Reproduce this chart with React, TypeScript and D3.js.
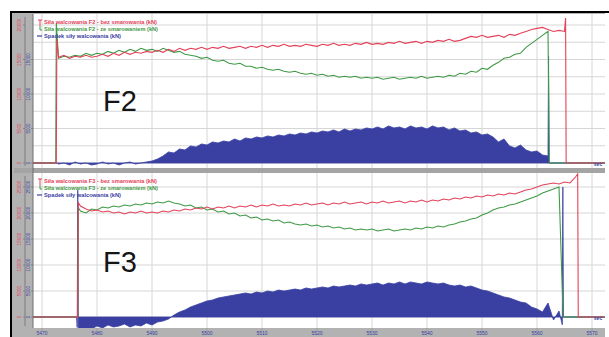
import * as d3 from "d3"

const W = 609
const H = 337

// time axis (sec)
const timeTicks = [5470, 5480, 5490, 5500, 5510, 5520, 5530, 5540, 5550, 5560, 5570]

// F2 stand, one sample per second from f2Start (kN)
const f2Start = 5473
const f2Bez = [
  15320, 15610, 15170, 15460, 15320, 15610, 15320, 15460, 15750, 15460, 15900, 15610, 16040, 15750, 16040, 15900,
  16180, 16040, 16330, 16040, 16470, 16180, 16620, 16330, 16620, 16470, 16760, 16470, 16760, 16620, 16910, 16620,
  16760, 16910, 16620, 16910, 16760, 17050, 16760, 17050, 16910, 17200, 16910, 17050, 16910, 17200, 17050, 16910,
  17200, 17050, 17340, 17050, 17200, 17050, 17340, 17200, 17480, 17200, 17340, 17200, 17480, 17340, 17630, 17340,
  17480, 17630, 17340, 17630, 17480, 17770, 17630, 17920, 17630, 17770, 18060, 18350, 18210, 18500, 18210, 18350,
  18500, 18210, 18640, 18500, 18790, 19070, 19360, 19510, 19650, 19360, 19070, 19220, 19070,
]
const f2Ze = [
  15170, 15460, 15320, 15610, 15460, 15900, 15610, 15900, 15750, 16180, 15900, 16330, 16040, 16470, 16180, 16620,
  16330, 16470, 16180, 16620, 16330, 16040, 16180, 15750, 15610, 15460, 15170, 15320, 14880, 14740, 14880, 14450,
  14310, 14450, 14020, 14020, 13730, 13870, 13580, 13440, 13580, 13290, 13150, 13290, 13010, 12860, 13010, 12720,
  12860, 12570, 12720, 12430, 12570, 12430, 12570, 12280, 12430, 12280, 12430, 12140, 12280, 12430, 12140, 12280,
  12430, 12280, 12570, 12280, 12430, 12570, 12430, 12720, 12570, 13010, 12860, 13290, 13150, 13730, 13580, 14160,
  14590, 15170, 15320, 15750, 15900, 16760, 17340, 17920, 18500, 19070,
]
const f2Spadek = [
  -150, 0, -290, 150, -150, 0, -290, -150, 150, -150, 0, -290, 0, 150, -150, 0, 150, 290,
  580, 1010, 1600, 1450, 2030, 1890, 2470, 2320, 2760, 2610, 3050, 2900, 3190, 3050, 3480, 3190,
  3630, 3480, 3770, 3630, 3920, 3770, 4060, 3920, 4210, 4060, 4350, 4210, 4500, 4350, 4640, 4500,
  4790, 4500, 4930, 4640, 4930, 4790, 5080, 4930, 5220, 4930, 5370, 5080, 5220, 4930, 5370, 5080,
  5220, 4930, 5370, 5080, 5220, 4790, 5080, 4640, 4790, 4350, 4500, 4060, 4210, 3770, 3050, 3480,
  2470, 2180, 2610, 1890, 1600, 1740, 1160, 1010,
]
const f2BezLead = [[5468, 0], [5472.6, 0], [5472.7, 18000]]
const f2BezTail = [[5565.2, 21000], [5565.3, 0], [5573, 0]]
const f2ZeLead = [[5468, 0], [5472.5, 0], [5472.6, 20300]]
const f2ZeTail = [[5562.25, 0], [5573, 0]]
const f2SpadekLead = [[5468, 0], [5472.8, 0]]
const f2SpadekTail = [[5562.1, 15500], [5562.2, 0], [5573, 0]]

// F3 stand
const f3Start = 5477
const f3Bez = [
  21350, 20770, 20380, 20580, 20190, 20380, 20000, 20190, 19810, 20190, 20000, 20380, 20000, 20190, 20000, 20380,
  20190, 20580, 20380, 20770, 20580, 20960, 20770, 21150, 20770, 21150, 20960, 21350, 20960, 21350, 21150, 21540,
  21150, 21540, 21350, 21730, 21350, 21540, 21350, 21730, 21540, 21920, 21540, 21730, 21920, 21540, 21920, 21730,
  22110, 21730, 21920, 22110, 21730, 22110, 21920, 22310, 21920, 22110, 22310, 21920, 22310, 22110, 22500, 22110,
  22500, 22310, 22690, 22500, 22880, 22690, 23080, 22880, 23270, 23080, 23460, 23270, 23650, 23460, 23850, 23650,
  24040, 24420, 24610, 25000, 25380, 25580, 25770, 25580, 25960, 25770, 26920,
]
const f3Ze = [
  20380, 20000, 20770, 20580, 21150, 20960, 21350, 21150, 21540, 21350, 21730, 21540, 21920, 21730, 22110, 21920,
  22310, 21920, 21730, 21350, 21540, 20960, 21150, 20580, 20770, 20190, 20380, 19810, 20000, 19420, 19610, 19040,
  19230, 18650, 18850, 18460, 18650, 18080, 18270, 17880, 17690, 17880, 17500, 17690, 17310, 17500, 17110, 17310,
  16920, 17110, 16730, 16920, 16730, 16920, 16540, 16730, 16920, 16540, 16730, 16920, 16730, 17110, 16920, 17310,
  17110, 17500, 17310, 17690, 17880, 18270, 18460, 18850, 19040, 19610, 20000, 20580, 20960, 21150, 21540, 21730,
  22110, 22500, 22880, 23270, 23850, 24230, 24610, 25000,
]
const f3Spadek = [
  -2500, -2120, -2310, -1730, -2120, -1540, -1920, -1730, -1350, -1920, -1540, -1730, -1150, -1540, -960, -770,
  -380, 380, 960, 1350, 1920, 2310, 2690, 3080, 3270, 3650, 3850, 4040, 4230, 4420, 4620, 4420,
  4810, 4620, 5000, 4810, 5190, 5000, 5190, 5380, 5190, 5580, 5380, 5580, 5770, 5580, 5960, 5770,
  5960, 6150, 5960, 6350, 6150, 6350, 6540, 6150, 6540, 6350, 6730, 6350, 6730, 6540, 6350, 6730,
  6540, 6350, 6540, 6150, 5960, 6150, 5770, 5960, 5580, 5190, 5000, 4620, 4230, 3850, 3650, 3270,
  2880, 2690, 1920, 1540, 960, 2690, -580, 1150,
]
const f3BezLead = [[5468, 0], [5476.5, 0], [5476.6, 22000]]
const f3BezTail = [[5567.4, 27500], [5567.5, 0], [5573, 0]]
const f3ZeLead = [[5468, 0], [5476.5, 0], [5476.6, 21000]]
const f3ZeTail = [[5564.75, 0], [5573, 0]]
const f3SpadekLead = [[5468, 0], [5476.3, 0], [5476.4, -2000], [5476.5, 24400], [5476.6, -2300]]
const f3SpadekTail = [[5564.6, -1500], [5564.7, 25000], [5564.8, 0], [5573, 0]]

const f2Labels = [
  "Siła walcowania F2 - bez smarowania (kN)",
  "Siła walcowania F2 - ze smarowaniem (kN)",
  "Spadek siły walcowania (kN)",
]
const f3Labels = [
  "Siła walcowania F3 - bez smarowania (kN)",
  "Siła walcowania F3 - ze smarowaniem (kN)",
  "Spadek siły walcowania (kN)",
]

const f2RedTicks = [0, 5000, 10000, 15000, 20000]
const f2BlueTicks = [0, 5000, 10000, 15000]
const f3RedTicks = [0, 5000, 10000, 15000, 20000, 25000]
const f3BlueTicks = [0, 5000, 10000, 15000, 20000, 25000]

const RED = "#e3425a"
const GREEN = "#3f9a45"
const BLUE = "#3a40a2"
const GRID = "#d6d6d6"
const STRIP = "#b2b2b2"
const FONT = "'Liberation Sans', Arial, sans-serif"

const PLOT_L = 33
const PLOT_R = 605

const x = d3.scaleLinear().domain([5470, 5570]).range([42, 592])

type Pt = [number, number]
const build = (lead: number[][], start: number, vals: number[], tail: number[][]): Pt[] => [
  ...(lead as Pt[]),
  ...vals.map((v, i) => [start + i, v] as Pt),
  ...(tail as Pt[]),
]

const panels = [
  {
    id: "f2",
    top: 14,
    bottom: 168,
    name: "F2",
    y: d3.scaleLinear().domain([0, 20000]).range([163, 25]),
    gridStep: 2500,
    red: build(f2BezLead, f2Start, f2Bez, f2BezTail),
    green: build(f2ZeLead, f2Start, f2Ze, f2ZeTail),
    blue: build(f2SpadekLead, f2Start, f2Spadek, f2SpadekTail),
    labels: f2Labels,
    redTicks: f2RedTicks,
    blueTicks: f2BlueTicks,
    nameY: 111,
  },
  {
    id: "f3",
    top: 173,
    bottom: 328,
    name: "F3",
    y: d3.scaleLinear().domain([0, 25000]).range([317, 187]),
    gridStep: 5000,
    red: build(f3BezLead, f3Start, f3Bez, f3BezTail),
    green: build(f3ZeLead, f3Start, f3Ze, f3ZeTail),
    blue: build(f3SpadekLead, f3Start, f3Spadek, f3SpadekTail),
    labels: f3Labels,
    redTicks: f3RedTicks,
    blueTicks: f3BlueTicks,
    nameY: 272,
  },
]

function Panel({ p }: { p: (typeof panels)[number] }) {
  const y = p.y
  const line = d3
    .line<Pt>()
    .x((d) => x(d[0]))
    .y((d) => y(d[1]))
  const area = d3
    .area<Pt>()
    .x((d) => x(d[0]))
    .y0(y(0))
    .y1((d) => y(d[1]))
  const gridVals = d3.range(0, y.domain()[1] + 1, p.gridStep)
  const lx = 44
  const ly = p.top + 8
  const textLens = [113, 114, 77]
  const colors = [RED, GREEN, BLUE]

  return (
    <g>
      <defs>
        <clipPath id={`clip-${p.id}`}>
          <rect x={PLOT_L} y={p.top} width={PLOT_R - PLOT_L} height={p.bottom - p.top} />
        </clipPath>
      </defs>
      <rect x={PLOT_L} y={p.top} width={PLOT_R - PLOT_L} height={p.bottom - p.top} fill="#fff" />
      {gridVals.map((v) => (
        <line key={"h" + v} x1={PLOT_L} x2={PLOT_R} y1={y(v)} y2={y(v)} stroke={GRID} strokeWidth={1} />
      ))}
      {timeTicks.map((t) => (
        <line key={"v" + t} x1={x(t)} x2={x(t)} y1={p.top} y2={p.bottom} stroke={GRID} strokeWidth={1} />
      ))}
      <g clipPath={`url(#clip-${p.id})`}>
        <path d={area(p.blue) ?? ""} fill={BLUE} stroke={BLUE} strokeWidth={0.8} />
        <path d={line(p.green) ?? ""} fill="none" stroke={GREEN} strokeWidth={1.1} />
        <path d={line(p.red) ?? ""} fill="none" stroke={RED} strokeWidth={1.1} />
      </g>

      {/* legend */}
      <line x1={38} x2={42} y1={ly - 2} y2={ly - 2} stroke={RED} strokeWidth={1} />
      <line x1={40} x2={40} y1={ly - 2} y2={ly + 4} stroke={RED} strokeWidth={1} />
      <line x1={40} x2={40} y1={ly + 4} y2={ly + 8} stroke={GREEN} strokeWidth={1} />
      <line x1={40} x2={42} y1={ly + 8} y2={ly + 8} stroke={GREEN} strokeWidth={1} />
      <line x1={37} x2={42} y1={ly + 14} y2={ly + 14} stroke={BLUE} strokeWidth={1.2} />
      {p.labels.map((s, i) => (
        <text
          key={s}
          x={lx}
          y={ly + i * 7 + 2}
          fontFamily={FONT}
          fontSize={5.6}
          fontWeight="bold"
          fill={colors[i]}
          textLength={textLens[i]}
          lengthAdjust="spacingAndGlyphs"
        >
          {s}
        </text>
      ))}

      <text x={103} y={p.nameY} fontFamily={FONT} fontSize={29} fill="#151515">
        {p.name}
      </text>
      <text
        x={598}
        y={y(0) + 3}
        fontFamily={FONT}
        fontSize={5}
        fontWeight="bold"
        fill={BLUE}
        textAnchor="middle"
      >
        sec
      </text>

      {/* left value axes */}
      {p.redTicks.map((v) => (
        <g key={"r" + v}>
          <line x1={23} x2={25} y1={y(v)} y2={y(v)} stroke="#777" strokeWidth={0.8} />
          <text
            transform={`translate(20.5,${y(v)}) rotate(-90)`}
            fontFamily={FONT}
            fontSize={4.6}
            fill={RED}
            textAnchor="middle"
          >
            {v}
          </text>
        </g>
      ))}
      {p.blueTicks.map((v) => (
        <g key={"b" + v}>
          <line x1={31} x2={33} y1={y(v)} y2={y(v)} stroke="#777" strokeWidth={0.8} />
          <text
            transform={`translate(29.5,${y(v)}) rotate(-90)`}
            fontFamily={FONT}
            fontSize={4.6}
            fill={BLUE}
            textAnchor="middle"
          >
            {v}
          </text>
        </g>
      ))}
      <line x1={25} x2={25} y1={p.top + 3} y2={p.bottom - 2} stroke="#7c7c7c" strokeWidth={1} />
    </g>
  )
}

export default function App() {
  return (
    <svg
      width={W}
      height={H}
      viewBox={`0 0 ${W} ${H}`}
      style={{ position: "absolute", left: 0, top: 0, display: "block" }}
    >
      <rect width={W} height={H} fill="#fff" />
      {/* frame and grey strips */}
      <rect x={12} y={13} width={PLOT_R - 12} height={H - 13} fill={STRIP} />
      <rect x={14} y={168} width={PLOT_R - 14} height={5} fill="#a4a4a4" />
      {panels.map((p) => (
        <Panel key={p.id} p={p} />
      ))}
      <line x1={PLOT_L} x2={PLOT_L} y1={14} y2={328} stroke="#6f6f6f" strokeWidth={1} />
      {timeTicks.map((t) => (
        <g key={t}>
          <line x1={x(t)} x2={x(t)} y1={328} y2={331} stroke="#999" strokeWidth={0.8} />
          <text x={x(t)} y={335} fontFamily={FONT} fontSize={5} fill={BLUE} textAnchor="middle">
            {t}
          </text>
        </g>
      ))}
      <line x1={10} x2={W} y1={12} y2={12} stroke="#000" strokeWidth={2} />
      <line x1={11} x2={11} y1={11} y2={H} stroke="#000" strokeWidth={2} />
    </svg>
  )
}
